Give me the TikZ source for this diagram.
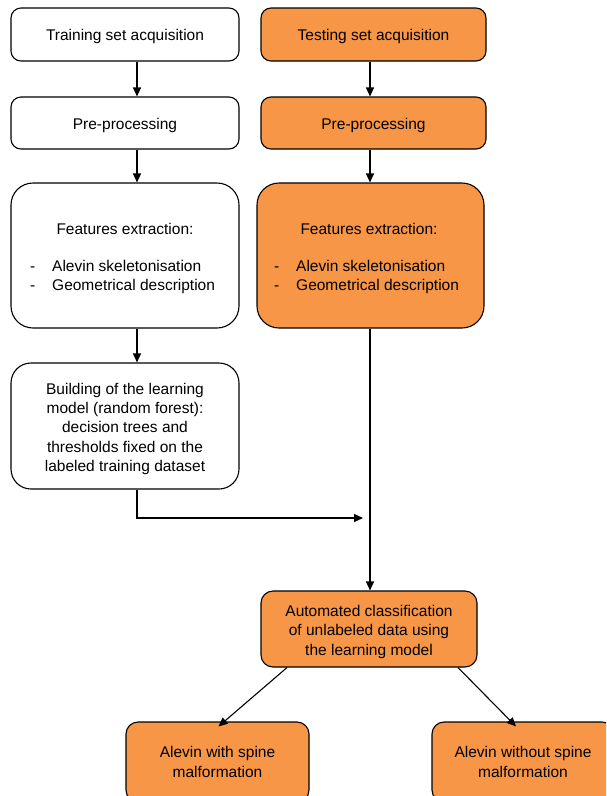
\documentclass[tikz,border=0pt]{standalone}
\usepackage{fontspec}
\setmainfont{Liberation Sans}
\usetikzlibrary{arrows.meta}
\definecolor{orangebox}{HTML}{F79646}
\tikzset{
  box/.style={draw=black, line width=1.1pt, rounded corners=10pt, align=center, inner sep=0pt,
    execute at begin node={\rule{0pt}{16pt}}},
  wbox/.style={box, fill=white},
  obox/.style={box, fill=orangebox},
  arr/.style={line width=1.1pt, -{Triangle[length=9pt,width=8pt]}},
  lbl/.style={inner sep=0pt, anchor=base west},
}
\newcommand{\firstline}[1]{\raisebox{0pt}[17pt][\depth]{#1}}
\begin{document}
\begin{tikzpicture}[x=1pt,y=-1pt,font=\fontsize{15.5}{19.3}\selectfont]
\clip (0,0) rectangle (606,796);
\fill[white] (0,0) rectangle (606,796);
% left column
\node[wbox, minimum width=228pt, minimum height=53pt] (train) at (125,34.5) {Training set acquisition};
\node[wbox, minimum width=228pt, minimum height=52pt] (pre1) at (125,123) {Pre-processing};
\node[wbox, rounded corners=22pt, minimum width=228pt, minimum height=145pt] (feat1) at (125,255.5) {};
\node[inner sep=0pt] (ft1) at (125,228.5) {Features extraction:};
\node[lbl] (d1a) at (30,271.5) {-};
\node[lbl] (t1a) at (52,271.5) {Alevin skeletonisation};
\node[lbl] (d1b) at (30,290.5) {-};
\node[lbl] (t1b) at (52,290.5) {Geometrical description};
\node[wbox, rounded corners=20pt, minimum width=228pt, minimum height=126pt, execute at begin node={}] (build) at (125,426)
  {\firstline{Building of the learning}\\model (random forest):\\decision trees and\\thresholds fixed on the\\labeled training dataset};
% right column
\node[obox, minimum width=225pt, minimum height=53pt] (test) at (373.5,34.5) {Testing set acquisition};
\node[obox, minimum width=225pt, minimum height=52pt] (pre2) at (373.5,123) {Pre-processing};
\node[obox, rounded corners=22pt, minimum width=227pt, minimum height=145pt] (feat2) at (370.5,255.5) {};
\node[inner sep=0pt] (ft2) at (369,228.5) {Features extraction:};
\node[lbl] (d2a) at (274,271.5) {-};
\node[lbl] (t2a) at (296,271.5) {Alevin skeletonisation};
\node[lbl] (d2b) at (274,290.5) {-};
\node[lbl] (t2b) at (296,290.5) {Geometrical description};
% bottom
\node[obox, rounded corners=12pt, minimum width=216pt, minimum height=76pt, execute at begin node={}] (auto) at (369,629)
  {\firstline{Automated classification}\\of unlabeled data using\\the learning model};
\node[obox, rounded corners=12pt, minimum width=183pt, minimum height=80pt, execute at begin node={}] (with) at (217.5,762)
  {Alevin with spine\\malformation};
\node[obox, rounded corners=12pt, minimum width=182pt, minimum height=80pt, execute at begin node={}] (without) at (523,762)
  {Alevin without spine\\malformation};
% connectors
\draw[arr] ([xshift=12pt]train.south) -- ([xshift=12pt]pre1.north);
\draw[arr] ([xshift=12pt]pre1.south) -- ([xshift=12pt]feat1.north);
\draw[arr] ([xshift=12pt]feat1.south) -- ([xshift=12pt]build.north);
\draw[arr] ([xshift=-3.5pt]test.south) -- ([xshift=-3.5pt]pre2.north);
\draw[arr] ([xshift=-3.5pt]pre2.south) -- ([xshift=-0.5pt]feat2.north);
\coordinate (join) at (363,518);
\draw[arr] ([xshift=12pt]build.south) |- (join);
\draw[arr] ([xshift=-0.5pt]feat2.south) -- ([xshift=1pt]auto.north);
\draw[arr] ([xshift=-82pt]auto.south) -- ([xshift=1pt,yshift=-5pt]with.north);
\draw[arr] ([xshift=89pt]auto.south) -- ([xshift=-7pt,yshift=-5pt]without.north);
\end{tikzpicture}
\end{document}
